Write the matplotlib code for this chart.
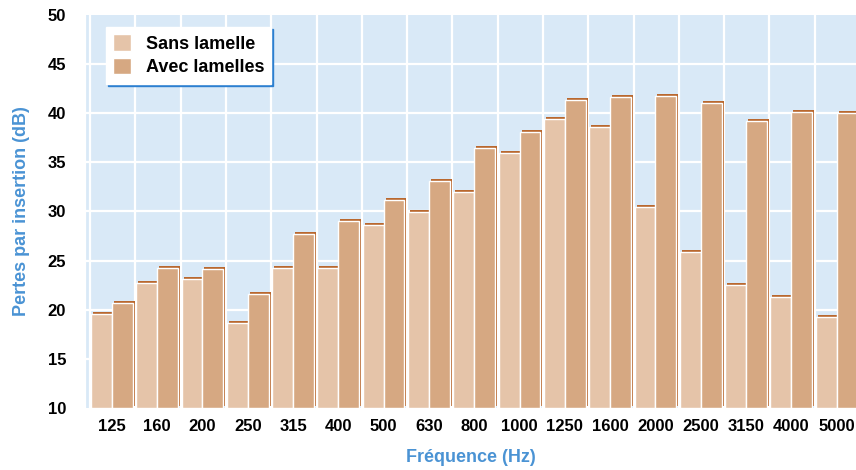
import numpy as np
import matplotlib
matplotlib.use('Agg')
import matplotlib.pyplot as plt
from matplotlib import font_manager
from matplotlib.transforms import ScaledTranslation

freqs = ['125', '160', '200', '250', '315', '400', '500', '630', '800', '1000',
         '1250', '1600', '2000', '2500', '3150', '4000', '5000']
sans_lamelle = [19.6, 22.7, 23.1, 18.7, 24.2, 24.3, 28.6, 29.9, 32.0, 36.0,
                39.4, 38.6, 30.5, 25.9, 22.5, 21.3, 19.3]
avec_lamelles = [20.7, 24.2, 24.1, 21.6, 27.7, 29.0, 31.2, 33.1, 36.5, 38.1,
                 41.3, 41.7, 41.8, 41.0, 39.2, 40.1, 40.0]
yticks = [10, 15, 20, 25, 30, 35, 40, 45, 50]

light = '#e5c4a9'
dark = '#d6a882'
shadow = '#b9682f'
bg = '#d9e9f7'
blue = '#4a93d4'

names = {f.name for f in font_manager.fontManager.ttflist}
narrow = 'Liberation Sans Narrow' if 'Liberation Sans Narrow' in names else 'Liberation Sans'

fig = plt.figure(figsize=(8.56, 4.70), dpi=100)
ax = fig.add_axes([85/856, 1 - 408/470, 771/856, 393/470])
ax.set_facecolor(bg)

x = np.arange(len(freqs))
w = 0.46
left1 = x - 0.478
left2 = x - 0.018
off = ScaledTranslation(2/100, 2/100, fig.dpi_scale_trans)

for lefts, vals, col, lab in [(left1, sans_lamelle, light, 'Sans lamelle'),
                              (left2, avec_lamelles, dark, 'Avec lamelles')]:
    h = np.array(vals) - 10
    ax.bar(lefts, h, width=w, bottom=10, align='edge', color=shadow,
           transform=ax.transData + off, zorder=2, clip_on=True)
    ax.bar(lefts, h, width=w, bottom=10, align='edge', color=col,
           edgecolor='white', linewidth=1.0, zorder=3, label=lab)

for yy in yticks[1:-1]:
    ax.axhline(yy, color='white', lw=1.6, zorder=1)
for b in np.arange(len(freqs) + 1) - 0.5:
    ax.axvline(b, color='white', lw=1.6, zorder=1)

ax.set_xlim(-0.5 - 5/45.3, -0.5 + 766/45.3)
ax.set_ylim(10, 50)
ax.set_yticks(yticks)
ax.set_xticks(x - 0.018)
ax.set_xticklabels(freqs)
for s in ['top', 'right', 'bottom']:
    ax.spines[s].set_visible(False)
ax.spines['left'].set_color('white')
ax.spines['left'].set_linewidth(1.6)
ax.tick_params(length=0, pad=8)
for t in ax.get_xticklabels() + ax.get_yticklabels():
    t.set_fontfamily(narrow)
    t.set_fontweight('bold')
    t.set_fontsize(12)
for t in ax.get_yticklabels():
    t.set_x(-0.01)

ax.set_xlabel('Fréquence (Hz)', color=blue, fontweight='bold',
              fontsize=13, family='Liberation Sans', labelpad=11)
ax.set_ylabel('Pertes par insertion (dB)', color=blue,
              fontweight='bold', fontsize=13, family='Liberation Sans', labelpad=13)

leg = ax.legend(loc='upper left', bbox_to_anchor=(0.027, 0.969), borderaxespad=0,
                frameon=True, fancybox=False, framealpha=1, edgecolor='white',
                prop={'family': 'Liberation Sans', 'weight': 'bold', 'size': 13},
                handlelength=1.0, handleheight=1.0, handletextpad=0.8,
                borderpad=0.4, labelspacing=0.3,
                shadow={'color': '#2c7fd0', 'alpha': 1, 'ox': 1.5, 'oy': -1.5})
leg.set_zorder(5)

fig.savefig('out.png', dpi=100)
